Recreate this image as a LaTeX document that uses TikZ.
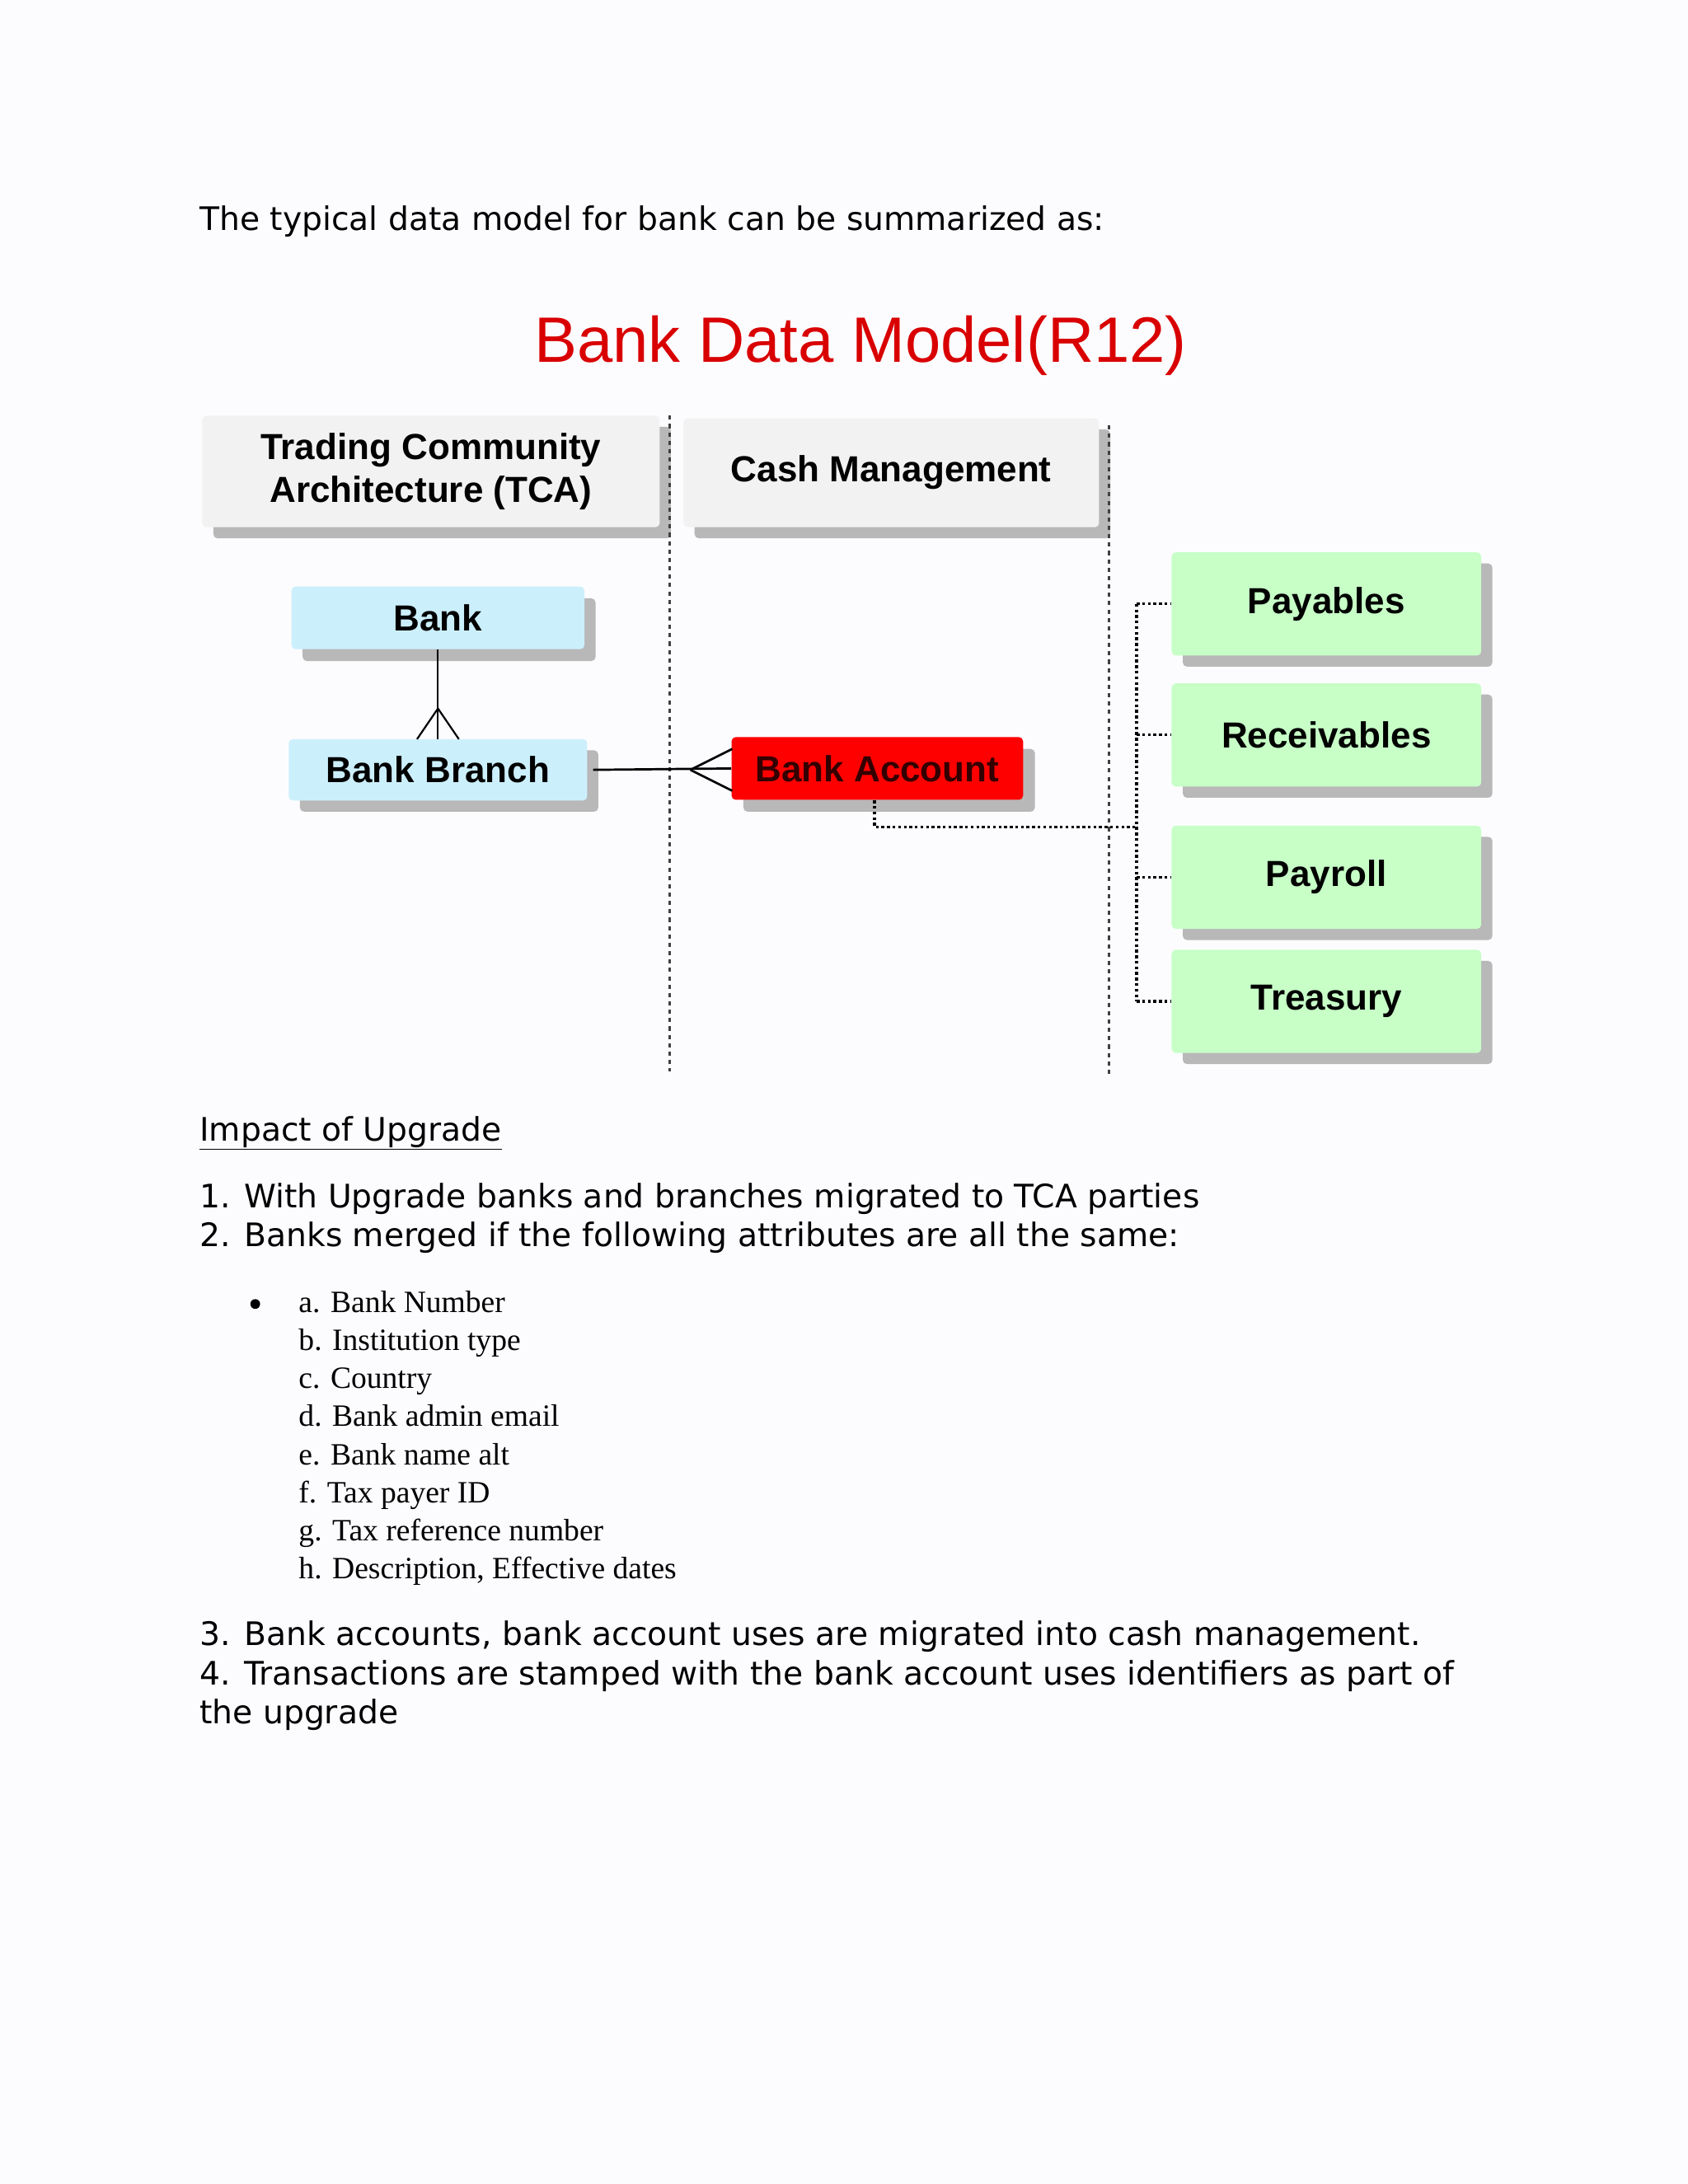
\documentclass[tikz,border=0pt]{standalone}
\usepackage{fontspec}
\setmainfont{DejaVu Sans}
\newfontfamily\arialf{Liberation Sans}
\newfontfamily\timesf{Liberation Serif}
\begin{document}
\begin{tikzpicture}[x=1pt,y=-1pt,
  body/.style={anchor=base west,inner sep=0,font=\fontsize{23.2}{28}\selectfont},
  itm/.style={anchor=base west,inner sep=0,font=\timesf\fontsize{22.2}{26}\selectfont},
  box/.style={draw=none,rounded corners=3pt,inner sep=0,font=\arialf\bfseries\fontsize{26}{31}\selectfont,align=center},
  shad/.style={fill=black!28,rounded corners=3pt},
  dl/.style={dotted,line width=2pt},
  dsh/.style={dashed,dash pattern=on 3pt off 3pt,line width=1.5pt,black!75}]
\useasboundingbox (0,0) rectangle (1210,1566);
\fill[white!99!blue] (0,0) rectangle (1210,1566);
\node[body] (t0) at (143,165) {The typical data model for bank can be summarized as:};
\node[font=\arialf\fontsize{46}{52}\selectfont,text=red!85!black] (title) at (617,248) {Bank Data Model(R12)};
% headers
\fill[shad] (153,306) rectangle (481,386);
\node[box,fill=black!5,minimum width=328,minimum height=80] (tca) at (309,338) {Trading Community\\Architecture (TCA)};
\fill[shad] (498,308) rectangle (796,386);
\node[box,fill=black!5,minimum width=298,minimum height=78] (cm) at (639,339) {Cash Management};
\draw[dsh] (480,298) -- (480,768);
\draw[dsh] (795,305) -- (795,772);
% bank
\fill[shad] (217,429) rectangle (427,474);
\node[box,fill=cyan!20,minimum width=210,minimum height=45] (bank) at (314,443) {Bank};
\fill[shad] (215,538) rectangle (429,582);
\node[box,fill=cyan!20,minimum width=214,minimum height=44] (branch) at (314,552) {Bank Branch};
\fill[shad] (533,537) rectangle (742,582);
\node[box,fill=red,text=black!80!red,minimum width=209,minimum height=45] (acct) at (629,551) {Bank Account};
\draw[line width=1.3pt] (bank.south) -- (branch.north);
\draw[line width=1.3pt] (314,508) -- (299,530) (314,508) -- (329,530);
\draw[line width=1.6pt] (branch.east) ++(4,0) -- (acct.west);
\draw[line width=1.6pt] (495,552) -- (525,537) (495,552) -- (525,567);
% green
\foreach \n/\t/\y in {pay/Payables/433, rec/Receivables/527, payr/Payroll/629, tre/Treasury/718}{
  \fill[shad] (848,\y-29) rectangle (1070,\y+45);
  \node[box,fill=green!22,minimum width=222,minimum height=74] (\n) at (951,\y) {\t};
}
\coordinate (a0) at (627,574);
\coordinate (a1) at (627,593);
\coordinate (j) at (815,593);
\draw[dl] (a0) -- (a1) -- (j);
\draw[dl] (815,433) -- (815,718);
\foreach \n/\y in {pay/433,rec/527,payr/629,tre/718}{\draw[dl] (815,\y) -- (\n.west);}
% text
\node[body] (imp) at (143,818) {\underline{Impact of Upgrade}};
\node[body] (l1) at (143,866) {1. With Upgrade banks and branches migrated to TCA parties};
\node[body] (l2) at (143,894) {2. Banks merged if the following attributes are all the same:};
\fill (183,935) circle (3.5);
\foreach \s [count=\i] in {a. Bank Number,b. Institution type,c. Country,d. Bank admin email,e. Bank name alt,f. Tax payer ID,g. Tax reference number,{h. Description, Effective dates}}{
  \node[itm] at (214,{941+(\i-1)*27.3}) {\s};
}
\node[body] (l3) at (143,1180) {3. Bank accounts, bank account uses are migrated into cash management.};
\node[body] (l4) at (143,1208) {4. Transactions are stamped with the bank account uses identifiers as part of};
\node[body] (l5) at (143,1236) {the upgrade};
\end{tikzpicture}
\end{document}
